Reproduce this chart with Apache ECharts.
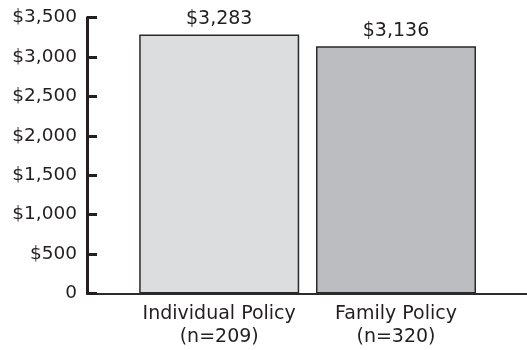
<!DOCTYPE html>
<html>
<head>
<meta charset="utf-8">
<script src="https://cdn.jsdelivr.net/npm/echarts@6/dist/echarts.min.js"></script>
<style>
  html, body { margin: 0; padding: 0; background: #ffffff; }
  #chart { width: 527px; height: 350px; }
</style>
</head>
<body>
<div id="chart"></div>
<script>
// Average annual premium by policy type
const categories = ['Individual Policy', 'Family Policy'];
const sampleSizes = [209, 320];
const premiums = [3283, 3136];
const barFills = ['#dcdddf', '#bcbdc1'];
const yTickLabels = ['0', '$500', '$1,000', '$1,500', '$2,000', '$2,500', '$3,000', '$3,500'];

const ink = '#231f20';
const font = 'DejaVu Sans';

const chart = echarts.init(document.getElementById('chart'), null, { renderer: 'canvas' });

chart.setOption({
  backgroundColor: '#ffffff',
  animation: false,
  grid: [
    // frame: y axis with ticks and the full-width baseline
    { left: 87, right: 0, top: 17.5, bottom: 56.5 },
    // plotting area for the bars
    { left: 130.8, right: 42.6, top: 17.5, bottom: 56.5 }
  ],
  xAxis: [
    {
      type: 'category', gridIndex: 0, data: categories,
      axisLine: { show: true, lineStyle: { color: '#2b2b2b', width: 2 } },
      axisTick: { show: false }, axisLabel: { show: false }, splitLine: { show: false }
    },
    {
      type: 'category', gridIndex: 1, data: categories,
      axisLine: { show: false }, axisTick: { show: false }, splitLine: { show: false },
      axisLabel: {
        show: true, interval: 0, hideOverlap: false,
        margin: 9, color: ink, fontFamily: font, fontSize: 19, lineHeight: 23,
        formatter: (v, i) => v + '\n(n=' + sampleSizes[i] + ')'
      }
    }
  ],
  yAxis: [
    {
      type: 'value', gridIndex: 0, min: 0, max: 3500, interval: 500,
      axisLine: { show: true, lineStyle: { color: ink, width: 3 } },
      axisTick: { show: true, inside: true, length: 10, lineStyle: { color: ink, width: 3 } },
      splitLine: { show: false },
      axisLabel: {
        margin: 10, color: ink, fontFamily: font, fontSize: 18.5,
        formatter: (v, i) => yTickLabels[i]
      }
    },
    {
      type: 'value', gridIndex: 1, min: 0, max: 3500, interval: 500, show: false
    }
  ],
  series: [{
    type: 'bar',
    xAxisIndex: 1, yAxisIndex: 1,
    barWidth: 160,
    data: premiums.map((v, i) => ({
      value: v,
      itemStyle: { color: barFills[i], borderColor: '#2a2a2a', borderWidth: 1.5 }
    })),
    label: {
      show: true, position: 'top', distance: 6, color: ink,
      fontFamily: font, fontSize: 19,
      formatter: p => '$' + p.value.toLocaleString('en-US')
    }
  }]
});
</script>
</body>
</html>
